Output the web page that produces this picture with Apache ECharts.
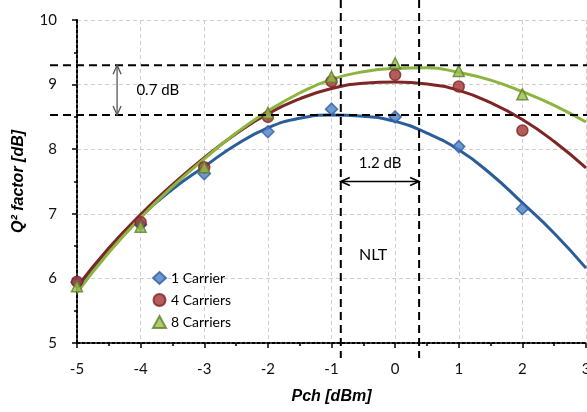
<!DOCTYPE html>
<html>
<head>
<meta charset="utf-8">
<script src="https://cdn.jsdelivr.net/npm/echarts@6/dist/echarts.min.js"></script>
<style>
html,body{margin:0;padding:0;background:#fff;}
#c{width:587px;height:412px;}
</style>
</head>
<body>
<div id="c"></div>
<script>
// Measured points
var pchX = [-5, -4, -3, -2, -1, 0, 1, 2];
var carrier1 = [5.94, 6.83, 7.62, 8.27, 8.62, 8.50, 8.04, 7.08];
var carrier4 = [5.95, 6.87, 7.72, 8.50, 9.05, 9.15, 8.97, 8.29];
var carrier8 = [5.88, 6.80, 7.72, 8.56, 9.12, 9.33, 9.21, 8.85];

// Fitted curves
var fitX = [-5, -4.5, -4, -3.5, -3, -2.5, -2, -1.5, -1, -0.5, 0, 0.5, 1, 1.5, 2, 2.5, 3];
var fit1 = [5.85, 6.45, 6.96, 7.38, 7.73, 8.07, 8.33, 8.48, 8.53, 8.51, 8.43, 8.25, 7.99, 7.62, 7.17, 6.70, 6.16];
var fit4 = [5.87, 6.47, 6.99, 7.45, 7.87, 8.24, 8.55, 8.78, 8.94, 9.02, 9.04, 9.01, 8.91, 8.72, 8.46, 8.12, 7.71];
var fit8 = [5.78, 6.40, 6.94, 7.42, 7.85, 8.25, 8.59, 8.87, 9.08, 9.20, 9.25, 9.26, 9.19, 9.07, 8.89, 8.68, 8.42];

// Annotation reference values
var refX = [-0.854, 0.377];
var refY = [9.30, 8.53];
var seriesNames = ['1 Carrier', '4 Carriers', '8 Carriers'];
var xTicks = [-5, 3, 1];
var yTicks = [5, 10, 1];

function pairs(xs, ys){ return xs.map(function(x,i){ return [x, ys[i]]; }); }

var chart = echarts.init(document.getElementById('c'));
var tickFont = 'Lato, "Open Sans", sans-serif';
var nameFont = '"Liberation Sans", Arial, sans-serif';

chart.setOption({
  animation: false,
  backgroundColor: '#fff',
  grid: {left: 77, right: 1, top: 20, bottom: 69, containLabel: false, outerBoundsMode: 'none'},
  legend: {
    data: seriesNames.map(function(n){ return {name: n}; }),
    orient: 'vertical', left: 147, top: 266, itemGap: 8,
    itemWidth: 13, itemHeight: 12,
    textStyle: {fontFamily: tickFont, fontSize: 14, color: '#000'}
  },
  xAxis: {
    type: 'value', min: xTicks[0], max: xTicks[1], interval: xTicks[2],
    name: 'Pch [dBm]', nameLocation: 'middle', nameGap: 46,
    nameTextStyle: {fontFamily: nameFont, fontWeight: 'bold', fontStyle: 'italic', fontSize: 16, color: '#000'},
    axisLine: {show: true, onZero: false, lineStyle: {color: '#000', width: 2, type: [3, 2]}},
    axisTick: {show: true, length: 5, lineStyle: {color: '#000', width: 1.5}},
    minorTick: {show: true, splitNumber: 2, length: 3, lineStyle: {color: '#000', width: 1.5}},
    axisLabel: {fontFamily: tickFont, fontSize: 15, color: '#111', margin: 19, showMaxLabel: true},
    splitLine: {show: true, lineStyle: {color: '#cfcfcf', width: 1, type: [4, 3]}}
  },
  yAxis: {
    type: 'value', min: yTicks[0], max: yTicks[1], interval: yTicks[2],
    name: 'Q² factor [dB]', nameLocation: 'middle', nameGap: 50,
    nameTextStyle: {fontFamily: nameFont, fontWeight: 'bold', fontStyle: 'italic', fontSize: 16, color: '#000'},
    axisLine: {show: true, onZero: false, lineStyle: {color: '#000', width: 2, type: [3, 2]}},
    axisTick: {show: true, length: 5, lineStyle: {color: '#000', width: 1.5}},
    minorTick: {show: true, splitNumber: 2, length: 3, lineStyle: {color: '#000', width: 1.5}},
    axisLabel: {fontFamily: tickFont, fontSize: 15, color: '#111', margin: 20},
    splitLine: {show: true, lineStyle: {color: '#cfcfcf', width: 1, type: [4, 3]}}
  },
  series: [
    {name: 'fit1', type: 'line', data: pairs(fitX, fit1), smooth: true, showSymbol: false, z: 2,
     lineStyle: {color: '#2B5E98', width: 3}},
    {name: 'fit4', type: 'line', data: pairs(fitX, fit4), smooth: true, showSymbol: false, z: 2,
     lineStyle: {color: '#7E2626', width: 3}},
    {name: 'fit8', type: 'line', data: pairs(fitX, fit8), smooth: true, showSymbol: false, z: 2,
     lineStyle: {color: '#8CB43F', width: 3}},
    {name: seriesNames[0], type: 'scatter', data: pairs(pchX, carrier1), symbol: 'diamond', symbolSize: 12, z: 5,
     itemStyle: {color: '#4A80C8', borderColor: '#2F5E9E', borderWidth: 1.5}},
    {name: seriesNames[1], type: 'scatter', data: pairs(pchX, carrier4), symbol: 'circle', symbolSize: 11, z: 5,
     itemStyle: {color: '#A03535', borderColor: '#7E2424', borderWidth: 1.5}},
    {name: seriesNames[2], type: 'scatter', data: pairs(pchX, carrier8), symbol: 'triangle', symbolSize: 11, z: 6,
     itemStyle: {color: '#98BF4A', borderColor: '#5E7E2A', borderWidth: 1.5}}
  ]
});

function px(x, y){ return chart.convertToPixel({gridIndex: 0}, [x, y]); }

var W = chart.getWidth();
var g = [];
var dashStyle = {stroke: '#000', lineWidth: 2, lineDash: [8, 5]};
// vertical reference lines
refX.forEach(function(x){
  var p = px(x, yTicks[0]);
  g.push({type: 'line', z: 10, shape: {x1: p[0], y1: 0, x2: p[0], y2: p[1] + 15}, style: dashStyle});
});
// horizontal reference lines
refY.forEach(function(y){
  var p = px(xTicks[0], y);
  g.push({type: 'line', z: 10, shape: {x1: p[0] - 27, y1: p[1], x2: W, y2: p[1]}, style: dashStyle});
});
// 0.7 dB arrow
var a1 = px(-4.37, refY[0]), a2 = px(-4.37, refY[1]);
var grey = {stroke: '#555', lineWidth: 1.3, fill: null};
g.push({type: 'line', z: 11, shape: {x1: a1[0], y1: a1[1], x2: a2[0], y2: a2[1]}, style: grey});
g.push({type: 'polyline', z: 11, shape: {points: [[a1[0]-4, a1[1]+9], [a1[0], a1[1]], [a1[0]+4, a1[1]+9]]}, style: grey});
g.push({type: 'polyline', z: 11, shape: {points: [[a2[0]-4, a2[1]-9], [a2[0], a2[1]], [a2[0]+4, a2[1]-9]]}, style: grey});
var t1 = px(-3.73, 8.915);
g.push({type: 'text', z: 11, x: t1[0], y: t1[1], style: {text: '0.7 dB', fontFamily: tickFont, fontSize: 15, fill: '#000', align: 'center', verticalAlign: 'middle'}});
// 1.2 dB arrow
var b1 = px(refX[0], 7.50), b2 = px(refX[1], 7.50);
var blk = {stroke: '#000', lineWidth: 1.6, fill: null};
g.push({type: 'line', z: 11, shape: {x1: b1[0], y1: b1[1], x2: b2[0], y2: b2[1]}, style: blk});
g.push({type: 'polyline', z: 11, shape: {points: [[b1[0]+9, b1[1]-4], [b1[0], b1[1]], [b1[0]+9, b1[1]+4]]}, style: blk});
g.push({type: 'polyline', z: 11, shape: {points: [[b2[0]-9, b2[1]-4], [b2[0], b2[1]], [b2[0]-9, b2[1]+4]]}, style: blk});
var t2 = px(-0.236, 7.79);
g.push({type: 'text', z: 11, x: t2[0], y: t2[1], style: {text: '1.2 dB', fontFamily: tickFont, fontSize: 15, fill: '#000', align: 'center', verticalAlign: 'middle'}});
var t3 = px(-0.346, 6.36);
g.push({type: 'text', z: 11, x: t3[0], y: t3[1], style: {text: 'NLT', fontFamily: tickFont, fontSize: 16, fill: '#000', align: 'center', verticalAlign: 'middle'}});

chart.setOption({graphic: g});
</script>
</body>
</html>
